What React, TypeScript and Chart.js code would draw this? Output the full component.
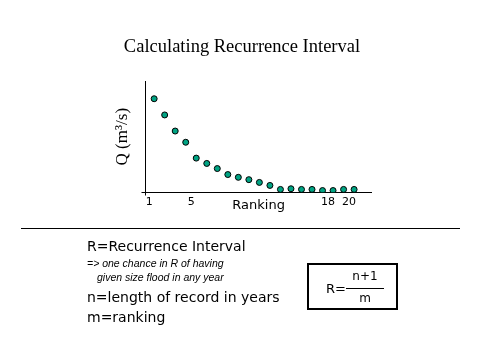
import React, { useEffect, useRef } from "react";
import { Chart, registerables } from "chart.js";

Chart.register(...registerables);

const chartTitle = "Calculating Recurrence Interval";
const yAxisTitle = "Q (m³/s)";
const xAxisTitle = "Ranking";
const ranks = [1, 2, 3, 4, 5, 6, 7, 8, 9, 10, 11, 12, 13, 14, 15, 16, 17, 18, 19, 20];
const discharge = [84.2, 69.6, 55.1, 45.0, 30.7, 25.9, 21.3, 15.9, 13.4, 11.3, 8.8, 6.1, 2.5, 3.1, 2.5, 2.5, 1.5, 1.5, 2.5, 2.5];
const xTickValues = [1, 5, 18, 20];

const axisLines = {
  id: "axisLines",
  beforeDatasetsDraw(chart: any) {
    const { ctx, chartArea } = chart;
    const l = Math.round(chartArea.left) + 0.5;
    const b = Math.round(chartArea.bottom) + 0.5;
    ctx.save();
    ctx.strokeStyle = "#000";
    ctx.lineWidth = 1;
    ctx.beginPath();
    ctx.moveTo(l, Math.round(chartArea.top));
    ctx.lineTo(l, b + 3);
    ctx.moveTo(l - 4, b);
    ctx.lineTo(Math.round(chartArea.right), b);
    ctx.stroke();
    ctx.restore();
  },
};

const textBase: React.CSSProperties = {
  position: "absolute",
  whiteSpace: "nowrap",
  color: "#000",
  fontFamily: "'DejaVu Sans', sans-serif",
};

export default function App() {
  const ref = useRef<HTMLCanvasElement | null>(null);
  useEffect(() => {
    if (!ref.current) return;
    const chart = new Chart(ref.current, {
      type: "scatter",
      data: {
        datasets: [
          {
            data: ranks.map((r, i) => ({ x: r, y: discharge[i] })),
            backgroundColor: "#00a383",
            borderColor: "#000",
            borderWidth: 1,
            pointRadius: 3,
          },
        ],
      },
      plugins: [axisLines],
      options: {
        responsive: false,
        animation: false,
        layout: { padding: { top: 36, left: 112, right: 108, bottom: 147 } },
        plugins: {
          legend: { display: false },
          tooltip: { enabled: false },
          title: {
            display: true,
            text: chartTitle,
            color: "#000",
            font: { family: "'Liberation Serif', serif", size: 18.5, weight: "normal" },
            padding: { top: 0, bottom: 23 },
          },
        },
        scales: {
          x: {
            type: "linear",
            min: 0.15,
            max: 21.7,
            grid: { display: false, drawTicks: false },
            border: { display: false },
            afterBuildTicks: (scale: any) => {
              scale.ticks = xTickValues.map((v) => ({ value: v }));
            },
            ticks: {
              color: "#000",
              font: { family: "'DejaVu Sans', sans-serif", size: 11 },
              padding: 3,
              labelOffset: -5,
              maxRotation: 0,
              autoSkip: false,
              callback: (v: any) => String(v),
            },
            title: {
              display: true,
              text: xAxisTitle,
              color: "#000",
              font: { family: "'DejaVu Sans', sans-serif", size: 13 },
              padding: { top: -14, bottom: 0 },
            },
          },
          y: {
            min: 0,
            max: 100,
            grid: { display: false, drawTicks: false },
            border: { display: false },
            ticks: { display: false },
            title: {
              display: true,
              text: yAxisTitle,
              color: "#000",
              font: { family: "'Liberation Serif', serif", size: 17 },
              padding: { top: 0, bottom: 12.8 },
            },
          },
        },
      },
    });
    return () => chart.destroy();
  }, []);

  return (
    <div style={{ position: "fixed", left: 0, top: 0, width: 480, height: 360, background: "#fff" }}>
      <canvas ref={ref} width={480} height={360} style={{ position: "absolute", left: 0, top: 0, width: 480, height: 360 }} />
      <div style={{ position: "absolute", left: 21, top: 228, width: 439, height: 0, borderTop: "1.5px solid #000" }} />
      <div style={{ ...textBase, left: 87, top: 238, fontSize: 14, lineHeight: "16px" }}>R=Recurrence Interval</div>
      <div style={{ ...textBase, left: 87, top: 257, fontSize: 10.5, lineHeight: "12px", fontStyle: "italic", fontFamily: "'Liberation Sans', sans-serif" }}>
        =&gt; one chance in R of having
      </div>
      <div style={{ ...textBase, left: 97, top: 271, fontSize: 10.5, lineHeight: "12px", fontStyle: "italic", fontFamily: "'Liberation Sans', sans-serif" }}>
        given size flood in any year
      </div>
      <div style={{ ...textBase, left: 87, top: 289, fontSize: 14, lineHeight: "16px" }}>n=length of record in years</div>
      <div style={{ ...textBase, left: 87, top: 309, fontSize: 14, lineHeight: "16px" }}>m=ranking</div>
      <div style={{ position: "absolute", left: 307, top: 263, width: 87, height: 43, border: "2px solid #000" }}>
        <div style={{ ...textBase, left: 17, top: 16, fontSize: 13, lineHeight: "15px" }}>R=</div>
        <div style={{ ...textBase, left: 38, top: 4, width: 36, textAlign: "center", fontSize: 12, lineHeight: "14px" }}>n+1</div>
        <div style={{ position: "absolute", left: 37, top: 23, width: 38, height: 0, borderTop: "1px solid #000" }} />
        <div style={{ ...textBase, left: 38, top: 26, width: 36, textAlign: "center", fontSize: 12, lineHeight: "14px" }}>m</div>
      </div>
    </div>
  );
}
